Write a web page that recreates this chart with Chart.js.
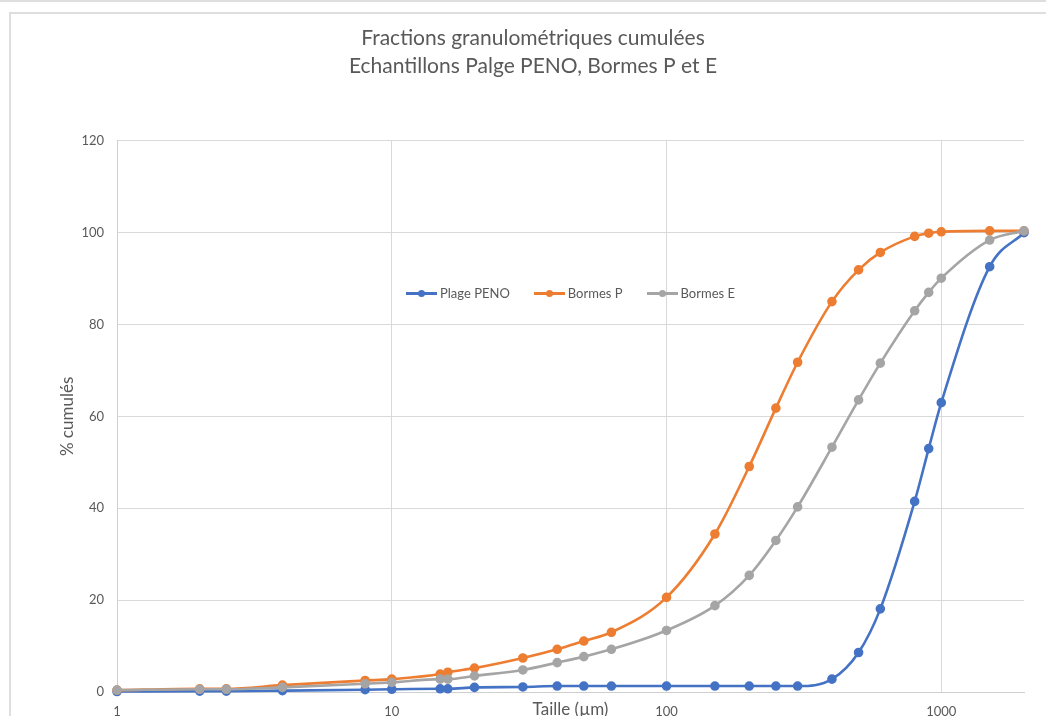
<!DOCTYPE html>
<html lang="fr">
<head>
<meta charset="utf-8">
<title>Fractions granulométriques cumulées</title>
<script src="https://cdn.jsdelivr.net/npm/chart.js@4/dist/chart.umd.min.js"></script>
<style>
html,body{margin:0;padding:0;background:#fff;overflow:hidden;}
body{width:1046px;height:716px;position:relative;font-family:Lato,sans-serif;}
.topline{position:absolute;left:0;top:0;width:1046px;height:2px;background:#dedede;}
.frame{position:absolute;left:9px;top:12px;width:1100px;height:800px;border-left:2px solid #dedede;border-top:2px solid #dedede;}
.wrap{position:absolute;left:0;top:0;width:1066px;height:740px;}
.legend{position:absolute;left:406px;top:285px;display:flex;gap:24px;font:13px Lato,sans-serif;color:#595959;white-space:nowrap;}
.legend .item{display:flex;align-items:center;}
.legend .swatch{position:relative;width:31px;height:3px;margin-right:3px;}
.legend .swatch i{position:absolute;left:12px;top:-2px;width:7px;height:7px;border-radius:50%;}
</style>
</head>
<body>
<div class="topline"></div>
<div class="frame"></div>
<div class="wrap"><canvas id="granulo" width="1066" height="740"></canvas></div>
<div class="legend" id="legend"></div>
<script>
// ----- Données -----
const sizes = [1, 2, 2.5, 4, 8, 10, 15, 16, 20, 30, 40, 50, 63, 100, 150, 200, 250, 300, 400, 500, 600, 800, 900, 1000, 1500, 2000];
const plagePeno = [0.1, 0.2, 0.2, 0.3, 0.5, 0.6, 0.7, 0.7, 1.0, 1.1, 1.3, 1.3, 1.3, 1.3, 1.3, 1.3, 1.3, 1.3, 2.8, 8.6, 18.1, 41.5, 53.0, 63.0, 92.6, 100];
const bormesP = [0.4, 0.7, 0.7, 1.5, 2.5, 2.8, 3.9, 4.3, 5.2, 7.4, 9.3, 11.1, 13.0, 20.6, 34.4, 49.1, 61.8, 71.8, 85.0, 91.9, 95.7, 99.2, 99.9, 100.2, 100.4, 100.4];
const bormesE = [0.4, 0.6, 0.6, 1.0, 1.8, 2.1, 2.8, 2.8, 3.5, 4.8, 6.4, 7.7, 9.3, 13.4, 18.8, 25.4, 33.0, 40.3, 53.3, 63.6, 71.6, 83.0, 87.0, 90.1, 98.4, 100.4];
const xTicks = [1, 10, 100, 1000];
const yTicks = [0, 20, 40, 60, 80, 100, 120];

const palette = { peno:'#4472C4', bp:'#ED7D31', be:'#A5A5A5' };
const textColor = '#595959';
const gridColor = '#d9d9d9';

const pts = vals => sizes.map((s,i)=>({ x:s, y:vals[i] }));
function serie(label, vals, color, order){
  return { label, data: pts(vals), borderColor: color, backgroundColor: color,
    pointBackgroundColor: color, pointBorderColor: color, borderWidth: 2.6,
    pointRadius: 3.5, pointHoverRadius: 3.5, cubicInterpolationMode:'monotone',
    clip: false, order };
}

// ----- Graphique -----
new Chart(document.getElementById('granulo'),{
  type:'line',
  data:{ datasets:[
    serie('Plage PENO', plagePeno, palette.peno, 2),
    serie('Bormes P', bormesP, palette.bp, 1),
    serie('Bormes E', bormesE, palette.be, 0)
  ]},
  options:{
    responsive:false, animation:false,
    layout:{ padding:{ left:42, right:42, top:0, bottom:0 } },
    plugins:{
      legend:{ display:false },
      tooltip:{ enabled:false },
      title:{ display:true, text:['Fractions granulométriques cumulées','Echantillons Palge PENO, Bormes P et E'],
        color:textColor, font:{ family:'Lato', size:21, weight:'normal', lineHeight:1.33 },
        padding:{ top:24, bottom:61 } }
    },
    scales:{
      x:{ type:'logarithmic', min:1, max:2000,
        afterBuildTicks: s => { s.ticks = xTicks.map(v=>({ value:v })); },
        afterFit: s => { s.height = 48; },
        grid:{ color:gridColor, drawTicks:false },
        border:{ color:'#cfcfcf' },
        ticks:{ color:textColor, font:{ family:'Lato', size:13 }, padding:12, maxRotation:0,
          callback: v => String(v) },
        title:{ display:true, text:'Taille (µm)', color:textColor,
          font:{ family:'Lato', size:17 }, padding:{ top:0, bottom:20 } }
      },
      y:{ min:0, max:120,
        afterBuildTicks: s => { s.ticks = yTicks.map(v=>({ value:v })); },
        afterFit: s => { s.width = 75; },
        grid:{ color:gridColor, drawTicks:false },
        border:{ color:'#cfcfcf' },
        ticks:{ color:textColor, font:{ family:'Lato', size:13 }, padding:13 },
        title:{ display:true, text:'% cumulés', color:textColor,
          font:{ family:'Lato', size:17 }, padding:{ top:15, bottom:0 } }
      }
    }
  }
});

// ----- Légende (dans la zone du graphique) -----
const legend = document.getElementById('legend');
[['Plage PENO', palette.peno], ['Bormes P', palette.bp], ['Bormes E', palette.be]].forEach(([name,color])=>{
  const it = document.createElement('span');
  it.className = 'item';
  it.innerHTML = `<span class="swatch" style="background:${color}"><i style="background:${color}"></i></span>${name}`;
  legend.appendChild(it);
});
</script>
</body>
</html>
